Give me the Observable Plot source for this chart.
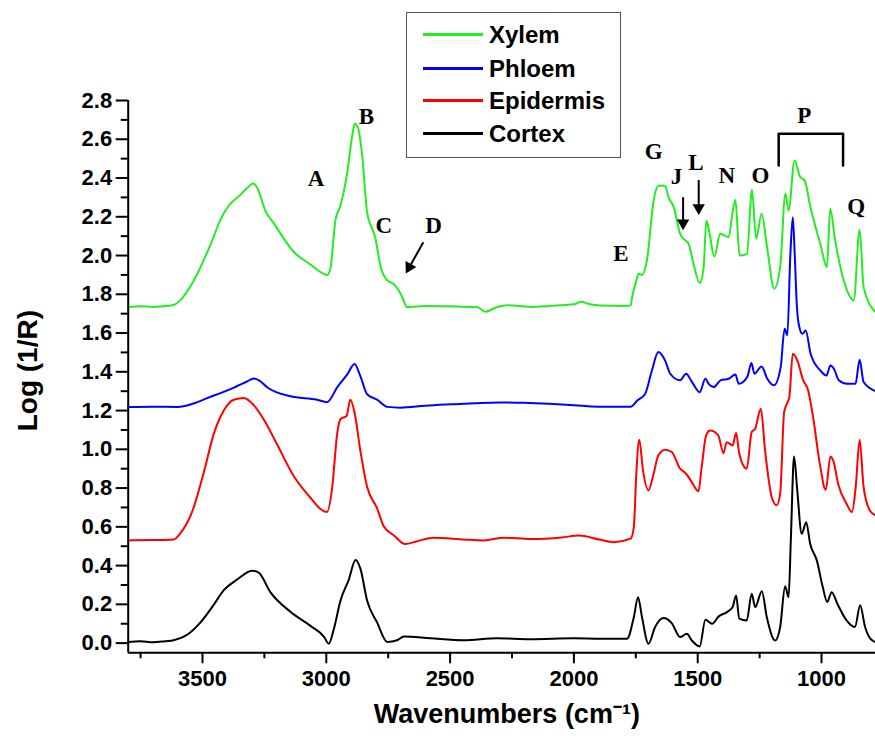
<!DOCTYPE html>
<html><head><meta charset="utf-8">
<script src="https://cdn.jsdelivr.net/npm/d3@7"></script>
<script src="https://cdn.jsdelivr.net/npm/@observablehq/plot@0.6"></script>
<style>
html,body{margin:0;padding:0;background:#fff;overflow:hidden}
#wrap{position:relative;width:875px;height:743px}
#legend{position:absolute;left:406px;top:12px;width:215px;height:146px;border:1.5px solid #555;box-sizing:border-box;background:#fff;font-family:"Liberation Sans",Arial,sans-serif;font-weight:bold;font-size:24px;color:#000}
.item{position:absolute;left:0;height:0}
.item .sw{position:absolute;left:16px;width:60px;height:2.5px;top:-1px}
.item .lb{position:absolute;left:82px;top:-14px;line-height:30px;white-space:nowrap}
</style></head><body><div id="wrap"><div id="legend"></div></div>
<script>
// ---------- data ----------
const seriesNames = ["Xylem", "Phloem", "Epidermis", "Cortex"];
const seriesColors = ["#22ee22", "#0000ff", "#ff0000", "#000000"];

const xylemWn  = [3800,3750,3700,3650,3617,3589,3535,3468,3421,3394,3347,3310,3295,3279,3246,3212,3131,3064,3010,2997,2983,2963,2943,2916,2895,2885,2872,2855,2835,2802,2781,2754,2728,2694,2674,2600,2500,2391,2357,2310,2270,2176,2100,2000,1970,1940,1893,1800,1771,1765,1750,1739,1725,1705,1678,1658,1632,1618,1597,1571,1550,1537,1517,1492,1476,1465,1452,1433,1409,1375,1361,1348,1331,1301,1281,1264,1242,1220,1191,1167,1146,1133,1109,1086,1068,1045,1005,978,965,945,897,870,846,830,782];
const xylemVal = [1.735,1.738,1.735,1.74,1.745,1.77,1.871,2.055,2.202,2.257,2.313,2.36,2.372,2.35,2.23,2.166,2.018,1.954,1.905,1.899,1.936,2.184,2.257,2.423,2.62,2.68,2.66,2.515,2.221,2.092,1.945,1.872,1.853,1.789,1.734,1.74,1.738,1.734,1.71,1.734,1.743,1.735,1.74,1.748,1.762,1.75,1.742,1.74,1.742,1.785,1.86,1.906,1.9,1.975,2.284,2.36,2.36,2.301,2.25,2.112,2.078,2.061,1.958,1.858,1.94,2.181,2.112,1.995,2.112,2.095,2.207,2.288,2.0,2.009,2.339,2.087,2.215,2.043,1.829,1.94,2.319,2.233,2.491,2.405,2.388,2.25,2.061,1.94,2.241,2.078,1.82,1.768,2.133,1.837,1.708];

const phloemWn  = [3800,3700,3600,3540,3481,3387,3320,3293,3270,3239,3145,3037,2997,2956,2916,2886,2862,2835,2795,2754,2700,2600,2500,2400,2300,2200,2100,2000,1900,1771,1744,1712,1685,1659,1632,1611,1571,1547,1523,1492,1469,1456,1435,1408,1375,1348,1334,1300,1283,1271,1242,1219,1192,1165,1149,1138,1126,1116,1108,1100,1091,1077,1064,1044,1005,980,964,950,930,897,863,846,830,782];
const phloemVal = [1.218,1.22,1.219,1.235,1.264,1.311,1.35,1.366,1.355,1.32,1.274,1.256,1.243,1.32,1.385,1.44,1.376,1.284,1.256,1.219,1.215,1.225,1.232,1.238,1.242,1.24,1.235,1.228,1.22,1.22,1.252,1.287,1.407,1.502,1.459,1.39,1.356,1.39,1.347,1.295,1.364,1.338,1.321,1.356,1.364,1.386,1.338,1.373,1.445,1.39,1.428,1.364,1.33,1.424,1.622,1.588,2.0,2.198,2.0,1.75,1.639,1.596,1.613,1.493,1.407,1.381,1.433,1.416,1.356,1.338,1.338,1.462,1.347,1.30];

const epidermisWn  = [3800,3700,3617,3589,3542,3495,3454,3414,3374,3333,3293,3253,3199,3131,3064,3017,2997,2976,2956,2943,2918,2903,2886,2862,2835,2795,2768,2728,2681,2633,2566,2445,2364,2283,2176,2050,1980,1893,1839,1771,1758,1748,1736,1721,1699,1678,1659,1632,1605,1571,1547,1524,1497,1484,1466,1450,1417,1396,1383,1359,1345,1332,1302,1282,1268,1245,1228,1201,1181,1167,1151,1140,1130,1116,1098,1074,1054,1034,1007,983,964,951,933,899,877,862,846,830,803,782];
const epidermisVal = [0.53,0.532,0.535,0.567,0.677,0.879,1.081,1.2,1.256,1.265,1.228,1.155,1.026,0.861,0.75,0.686,0.677,0.805,1.081,1.155,1.173,1.256,1.191,0.989,0.805,0.696,0.603,0.557,0.511,0.526,0.544,0.535,0.53,0.544,0.537,0.545,0.555,0.533,0.521,0.539,0.599,0.874,1.049,0.891,0.788,0.874,0.969,0.998,0.986,0.9,0.874,0.831,0.783,0.908,1.072,1.097,1.072,0.98,1.037,1.02,1.084,0.977,0.9,1.089,1.106,1.209,0.994,0.753,0.711,0.771,1.192,1.235,1.269,1.493,1.459,1.356,1.304,1.166,0.926,0.791,0.963,0.935,0.822,0.719,0.676,0.805,1.049,0.805,0.68,0.659];

const cortexWn  = [3800,3750,3700,3650,3617,3562,3508,3454,3414,3360,3300,3273,3226,3145,3064,3010,2990,2970,2943,2909,2882,2862,2835,2795,2754,2714,2687,2580,2445,2310,2176,2000,1893,1785,1758,1741,1725,1699,1672,1638,1605,1571,1544,1524,1492,1469,1442,1415,1382,1359,1345,1332,1302,1282,1268,1241,1221,1187,1167,1147,1133,1124,1111,1098,1080,1062,1046,1019,995,977,959,936,899,865,844,824,803,782];
const cortexVal = [0.006,0.01,0.004,0.01,0.015,0.043,0.107,0.199,0.273,0.328,0.374,0.364,0.263,0.162,0.089,0.034,-0.003,0.07,0.218,0.328,0.429,0.383,0.218,0.107,0.006,0.015,0.034,0.025,0.015,0.025,0.02,0.025,0.023,0.023,0.134,0.237,0.134,-0.003,0.083,0.129,0.103,0.031,0.048,0.014,-0.017,0.121,0.1,0.138,0.16,0.186,0.246,0.126,0.117,0.255,0.186,0.268,0.134,0.014,0.083,0.293,0.237,0.53,0.963,0.788,0.564,0.624,0.513,0.427,0.289,0.212,0.263,0.203,0.117,0.083,0.195,0.083,0.023,0.005];

// axis ticks
const xMajorTicks = [3500, 3000, 2500, 2000, 1500, 1000];
const xMinorTicks = [3750, 3250, 2750, 2250, 1750, 1250];
const yMajorTicks = [0.0,0.2,0.4,0.6,0.8,1.0,1.2,1.4,1.6,1.8,2.0,2.2,2.4,2.6,2.8];
const yMinorTicks = [0.1,0.3,0.5,0.7,0.9,1.1,1.3,1.5,1.7,1.9,2.1,2.3,2.5,2.7];
const xDomain = [3800, 782];
const yDomain = [-0.05, 2.8];

// band annotations
const bandLabels = ["A","B","C","D","E","G","J","L","N","O","P","Q"];
const bandWn     = [3041,2838,2768,2567,1810,1678,1586,1507,1382,1247,1070,860];
const bandVal    = [2.395,2.717,2.156,2.156,2.011,2.534,2.405,2.482,2.413,2.413,2.724,2.25];
// arrows (tail -> head) for D, J, L
const arrowNames = ["D","J","L"];
const arrowWn1 = [2608,1559,1496], arrowVal1 = [2.068,2.301,2.39];
const arrowWn2 = [2665,1559,1496], arrowVal2 = [1.94,2.168,2.246];
const arrowHeadRotate = [209,180,180];
// P bracket
const bracketWn  = [1173,1173,913,913];
const bracketVal = [2.465,2.628,2.628,2.465];

const yTitle = "Log (1/R)";
const xTitle = "Wavenumbers (cm\u207B\u00B9)";

// ---------- build ----------
const allWn = [xylemWn, phloemWn, epidermisWn, cortexWn];
const allVal = [xylemVal, phloemVal, epidermisVal, cortexVal];
const lines = seriesNames.map((name, k) =>
  Plot.line(allWn[k].map((w, i) => ({wn: w, v: allVal[k][i]})),
    {x: "wn", y: "v", stroke: seriesColors[k], strokeWidth: 2, strokeLinejoin: "round", curve: "monotone-x"}));

const annots = bandLabels.map((t, i) => ({t, wn: bandWn[i], v: bandVal[i]}));
const arrows = arrowNames.map((n, i) => ({wn1: arrowWn1[i], v1: arrowVal1[i], wn2: arrowWn2[i], v2: arrowVal2[i], rot: arrowHeadRotate[i]}));
const bracket = bracketWn.map((w, i) => ({wn: w, v: bracketVal[i]}));

const chart = Plot.plot({
  width: 875, height: 743,
  marginLeft: 127.7, marginRight: 0, marginTop: 100, marginBottom: 90.7,
  x: {domain: xDomain, label: null},
  y: {domain: yDomain, label: null},
  style: {fontFamily: "'Liberation Sans', Arial, sans-serif", fontWeight: "bold", fontSize: "22px", color: "#000", background: "#fff", overflow: "visible"},
  marks: [
    ...lines,
    Plot.ruleX([xDomain[0]], {y1: yDomain[0], y2: yDomain[1], strokeWidth: 2}),
    Plot.ruleY([yDomain[0]], {strokeWidth: 2}),
    Plot.axisX({ticks: xMajorTicks, tickSize: 11, tickPadding: 7, tickFormat: d => String(d), strokeWidth: 2, label: null, fontSize: 22}),
    Plot.axisX({ticks: xMinorTicks, tickSize: 6, tickFormat: () => "", strokeWidth: 2, label: null}),
    Plot.axisY({ticks: yMajorTicks, tickSize: 12, tickPadding: 4, tickFormat: d3.format(".1f"), strokeWidth: 2, label: null, fontSize: 22}),
    Plot.axisY({ticks: yMinorTicks, tickSize: 7, tickFormat: () => "", strokeWidth: 2, label: null}),
    Plot.text([yTitle], {frameAnchor: "left", text: d => d, rotate: -90, textAnchor: "middle", dx: -100, dy: -6, fontSize: 28, fontWeight: "bold"}),
    Plot.text([xTitle], {frameAnchor: "bottom", text: d => d, textAnchor: "middle", dx: 5, dy: 70, fontSize: 27, fontWeight: "bold"}),
    Plot.text(annots, {x: "wn", y: "v", text: "t", fontFamily: "'Liberation Serif', 'Times New Roman', serif", fontWeight: "bold", fontSize: 23}),
    Plot.link(arrows, {x1: "wn1", y1: "v1", x2: "wn2", y2: "v2", stroke: "#000", strokeWidth: 2}),
    Plot.dot(arrows, {x: "wn2", y: "v2", symbol: "triangle", r: 4.6, fill: "#000", stroke: "none", rotate: "rot"}),
    Plot.line(bracket, {x: "wn", y: "v", stroke: "#000", strokeWidth: 2.5})
  ]
});
document.getElementById("wrap").prepend(chart);

// legend (HTML overlay inside plot area)
const legendY = [21, 55, 87, 120];
const legend = document.getElementById("legend");
seriesNames.forEach((name, k) => {
  const it = document.createElement("div");
  it.className = "item";
  it.style.top = legendY[k] + "px";
  it.innerHTML = `<div class="sw" style="background:${seriesColors[k]}"></div><div class="lb">${name}</div>`;
  legend.appendChild(it);
});
</script>
</body></html>
